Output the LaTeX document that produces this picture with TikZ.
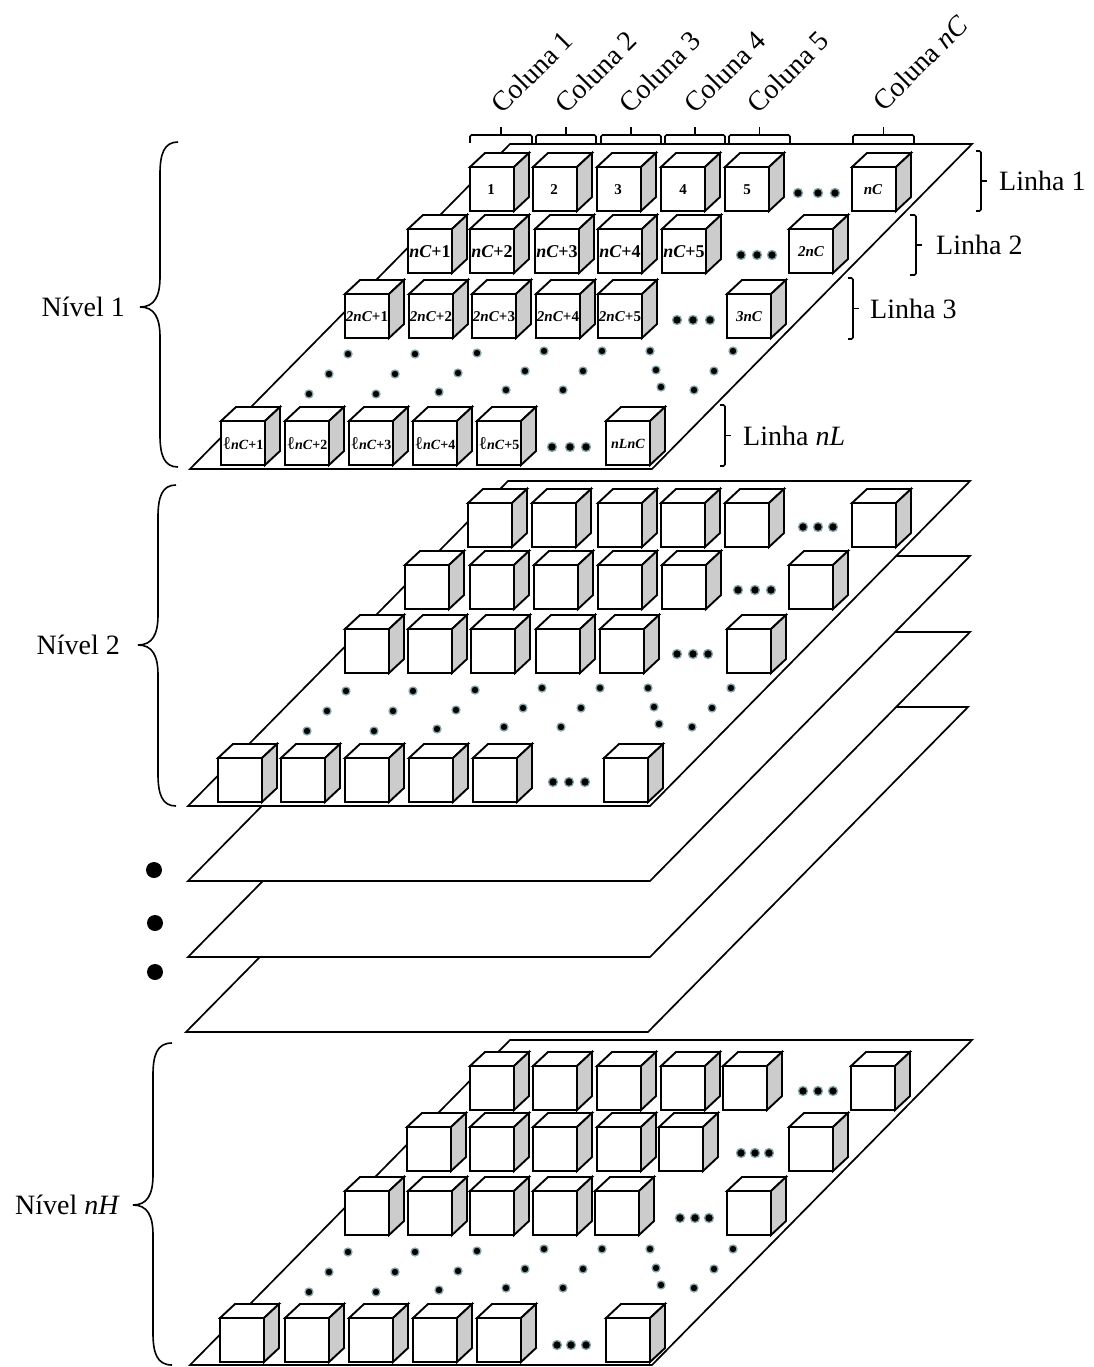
\documentclass[tikz,border=0pt]{standalone}
\usepackage{fontspec}
\setmainfont{Liberation Serif}
\usepackage{xcolor}
\definecolor{sidegray}{RGB}{204,204,204}
\definecolor{dothalo}{RGB}{130,165,170}
\usepackage{tikz}
\usetikzlibrary{positioning}

\tikzset{
  plate/.style={draw=black, fill=white, line width=1.7pt, line join=miter},
  cubeface/.style={draw=black, fill=white, line width=1.9pt},
  cubeside/.style={draw=black, fill=sidegray, line width=1.9pt},
  griddot/.style={fill=black, draw=dothalo, line width=1.3pt},
  bracket/.style={draw=black, line width=1.6pt, rounded corners=1.5pt},
  curlybrace/.style={draw=black, line width=1.6pt},
  biglabel/.style={font=\fontsize{28}{30}\selectfont, inner sep=0pt},
  rowlabel/.style={font=\fontsize{28}{30}\selectfont, inner sep=0pt, anchor=west},
  collabel/.style={font=\fontsize{28}{30}\selectfont, inner sep=0pt, rotate=45},
  cubelabel/.style={font=\fontsize{15}{17}\selectfont\bfseries, inner sep=0pt},
  cubelabelbig/.style={font=\fontsize{18}{20}\selectfont\bfseries, inner sep=0pt},
  cubelabelsmall/.style={font=\fontsize{14}{16}\selectfont\bfseries, inner sep=0pt}
}
% the script letter of the last row is taller than the bold text beside it
\newcommand{\rowell}{{\fontsize{18}{20}\selectfont\mdseries ℓ}}

% one cube, front face top-left corner at (#1,#2)
\newcommand{\cube}[2]{
  \draw[cubeface] (#1,#2) rectangle ++(44,44);
  \draw[cubeface] (#1,#2) -- ++(15,-14) -- ++(44,0) -- ++(-15,14) -- cycle;
  \draw[cubeside] (#1+44,#2) -- ++(15,-14) -- ++(0,44) -- ++(-15,14) -- cycle;
}
\newcommand{\cuberow}[2]{
  \foreach \cx in {#2} { \cube{\cx}{#1} }
}
% plate from its bottom-left corner
\newcommand{\plateat}[2]{
  \draw[plate] (#1,#2) -- ++(462,0) -- ++(320,-325) -- ++(-462,0) -- cycle;
}
% the field of dots between row 3 and the last row
\newcommand{\dotfield}[2]{
  \begin{scope}[shift={(#1,#2)}]
    \foreach \dx/\dy in {348/354, 329/374, 309/394, 415/354, 395/374, 376/394,
        477/353, 458/373, 439/392, 544/351, 525/371, 506/390, 602/351, 583/371,
        563/390, 650/351, 656/370, 661/387, 733/351, 714/371, 694/390} {
      \draw[griddot] (\dx,\dy) circle (4);
    }
  \end{scope}
}
\newcommand{\threedots}[4]{
  \foreach \dx in {#2,#3,#4} { \draw[griddot] (\dx,#1) circle (4.5); }
}
% big brace: xright, xmid, xtip, ytop, ytip, ybottom
\newcommand{\levelbrace}[6]{
  \draw[curlybrace] (#1,#4) .. controls (#2+4,#4) and (#2,#4+12) .. (#2,#4+32)
    -- (#2,#5-30) .. controls (#2,#5-10) and (#2-6,#5) .. (#3,#5)
    .. controls (#2-6,#5) and (#2,#5+10) .. (#2,#5+30)
    -- (#2,#6-32) .. controls (#2,#6-12) and (#2+4,#6) .. (#1,#6);
}

\begin{document}
\begin{tikzpicture}[x=1pt, y=-1pt]
  \useasboundingbox (0,0) rectangle (1094,1367);

  % Plates, bottom one first
  \plateat{190}{1365}
  \plateat{186}{1032}
  \plateat{188}{957}
  \plateat{188}{881}
  \plateat{188}{806}
  \plateat{190}{469}

  % Level 1
  \cuberow{167}{470, 533, 597, 661, 725, 852}
  \cuberow{229}{408, 470, 535, 598, 662, 789}
  \cuberow{294}{345, 409, 472, 536, 598, 727}
  \cuberow{421}{221, 285, 349, 413, 477, 606}
  \threedots{193}{798}{818}{835}
  \threedots{255}{741}{757}{772}
  \threedots{320}{677}{693}{710}
  \threedots{447}{552}{570}{586}
  \dotfield{0}{0}

  \foreach \cx/\lab [count=\i] in {491/1, 554/2, 618/3, 683/4, 747/5, 873/\textit{nC}} {
    \node[cubelabel] (rowA\i) at (\cx,190) {\lab};
  }
  \foreach \cx/\lab [count=\i] in {430/1, 492/2, 557/3, 620/4, 684/5} {
    \node[cubelabelbig] (rowB\i) at (\cx,252) {\textit{nC}+\lab};
  }
  \node[cubelabel] (rowB6) at (811,252) {\textit{2nC}};
  \foreach \cx/\lab [count=\i] in {367/{\textit{2nC}+1}, 431/{\textit{2nC}+2}, 494/{\textit{2nC}+3},
      558/{\textit{2nC}+4}, 620/{\textit{2nC}+5}, 749/\textit{3nC}} {
    \node[cubelabel] (rowC\i) at (\cx,317) {\lab};
  }
  \foreach \cx/\lab [count=\i] in {243/{\rowell\textit{nC}+1}, 307/{\rowell\textit{nC}+2}, 371/{\rowell\textit{nC}+3},
      435/{\rowell\textit{nC}+4}, 499/{\rowell\textit{nC}+5}, 628/\textit{nLnC}} {
    \node[cubelabelsmall] (rowD\i) at (\cx,444) {\lab};
  }

  % Level 2
  \cuberow{503}{468, 532, 598, 661, 725, 852}
  \cuberow{565}{405, 470, 534, 598, 662, 789}
  \cuberow{629}{345, 408, 471, 536, 600, 727}
  \cuberow{758}{218, 281, 345, 409, 473, 604}
  \threedots{527}{803}{818}{833}
  \threedots{590}{738}{755}{771}
  \threedots{654}{677}{693}{708}
  \threedots{782}{553}{569}{585}
  \dotfield{-2}{337}

  % Level nH
  \cuberow{1066}{470, 533, 597, 661, 723, 851}
  \cuberow{1127}{407, 470, 533, 597, 659, 789}
  \cuberow{1191}{345, 408, 470, 533, 595, 727}
  \cuberow{1318}{220, 285, 349, 413, 477, 606}
  \threedots{1091}{803}{818}{833}
  \threedots{1153}{741}{755}{769}
  \threedots{1218}{680}{695}{709}
  \threedots{1345}{557}{571}{586}
  \dotfield{0}{898}

  % Big dots between the levels
  \fill (154,870) circle (8);
  \fill (155,923) circle (8);
  \fill (155,972) circle (8);

  % Level braces and labels
  \levelbrace{178}{160}{140}{142}{307}{467}
  \levelbrace{176}{158}{138}{485}{645}{806}
  \levelbrace{172}{153}{133}{1043}{1205}{1365}
  \node[biglabel, anchor=east] (nivelA) at (125,307) {Nível 1};
  \node[biglabel, anchor=east] (nivelB) at (120,645) {Nível 2};
  \node[biglabel, anchor=east] (nivelH) at (120,1205) {Nível \textit{nH}};

  % Column brackets and labels
  \foreach \xa/\xb in {470/532, 536/596, 601/661, 665/725, 729/790, 853/914} {
    \draw[bracket] (\xa,143) -- (\xa,135) -- (\xb,135) -- (\xb,143);
    \draw[curlybrace] ({(\xa+\xb)/2},135) -- ({(\xa+\xb)/2},127);
  }
  \foreach \cx/\lab [count=\i] in {532/1, 596/2, 660/3, 725/4, 788/5} {
    \node[collabel] (colunaL\i) at (\cx,72) {Coluna \lab};
  }
  \node[collabel] (colunaN) at (920,63) {Coluna \textit{nC}};

  % Row brackets and labels
  \foreach \xa/\xb/\ya/\yb/\lx/\name/\lab in {976/981/151/211/999/linhaA/Linha 1, 910/916/215/275/936/linhaB/Linha 2,
      848/853/278/339/870/linhaC/Linha 3, 720/725/405/466/743/linhaL/{Linha \textit{nL}}} {
    \draw[bracket] (\xa,\ya) -- (\xb,\ya) -- (\xb,\yb) -- (\xa,\yb);
    \draw[curlybrace] (\xb,{(\ya+\yb)/2}) -- ++(6,0);
    \node[rowlabel] (\name) at (\lx,{(\ya+\yb)/2}) {\lab};
  }
\end{tikzpicture}
\end{document}
